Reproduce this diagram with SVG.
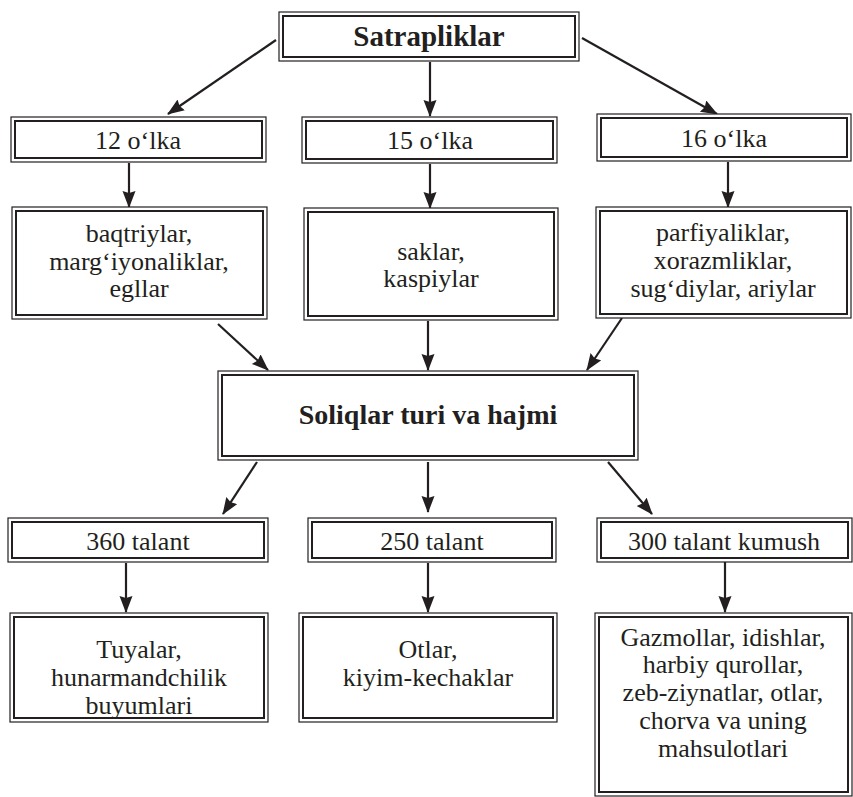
<svg xmlns="http://www.w3.org/2000/svg" width="853" height="797" viewBox="0 0 853 797">
<style>
.o{fill:#fff;stroke:#231f20;stroke-width:1.2}
.i{fill:none;stroke:#231f20;stroke-width:2}
.t{font-family:"Liberation Serif","Times New Roman",serif;font-size:26px;fill:#231f20;text-anchor:middle}
.b{font-weight:bold;font-size:29px}
.c{stroke:#231f20;stroke-width:2.2;fill:none;marker-end:url(#ah)}
</style>
<defs>
<marker id="ah" markerUnits="userSpaceOnUse" markerWidth="18" markerHeight="14" refX="16" refY="6.5" orient="auto">
<path d="M0,0 L17,6.5 L0,13 L2,6.5 z" fill="#231f20"/>
</marker>
</defs>
<rect width="853" height="797" fill="#fff"/>
<g id="connectors">
<line class="c" x1="276" y1="40" x2="168" y2="114"/>
<line class="c" x1="430" y1="62" x2="430" y2="116"/>
<line class="c" x1="582" y1="38" x2="717" y2="114"/>
<line class="c" x1="129" y1="163" x2="129" y2="207"/>
<line class="c" x1="430" y1="164" x2="430" y2="208"/>
<line class="c" x1="728" y1="162" x2="728" y2="207"/>
<line class="c" x1="218" y1="324" x2="268" y2="370"/>
<line class="c" x1="428" y1="321" x2="428" y2="370"/>
<line class="c" x1="622" y1="318" x2="587" y2="370"/>
<line class="c" x1="257" y1="462" x2="223" y2="514"/>
<line class="c" x1="428" y1="462" x2="428" y2="512"/>
<line class="c" x1="608" y1="462" x2="652" y2="514"/>
<line class="c" x1="126" y1="563" x2="126" y2="612"/>
<line class="c" x1="428" y1="563" x2="428" y2="612"/>
<line class="c" x1="725" y1="562" x2="725" y2="612"/>
</g>
<g id="satrapliklar">
<rect class="o" x="279" y="12" width="300" height="49"/>
<rect class="i" x="283" y="16" width="292" height="41"/>
<text class="t b" x="429" y="46">Satrapliklar</text>
</g>
<g id="olka12">
<rect class="o" x="11" y="117" width="255" height="45"/>
<rect class="i" x="15" y="121" width="247" height="37"/>
<text class="t" x="138" y="149">12 o‘lka</text>
</g>
<g id="olka15">
<rect class="o" x="302" y="117" width="255" height="46"/>
<rect class="i" x="306" y="121" width="247" height="38"/>
<text class="t" x="430" y="149">15 o‘lka</text>
</g>
<g id="olka16">
<rect class="o" x="597" y="114" width="254" height="47"/>
<rect class="i" x="601" y="118" width="246" height="39"/>
<text class="t" x="724" y="147">16 o‘lka</text>
</g>
<g id="baqtriylar">
<rect class="o" x="12" y="207" width="255" height="112"/>
<rect class="i" x="16" y="211" width="247" height="104"/>
<text class="t" x="139" y="242">baqtriylar,</text>
<text class="t" x="139" y="270">marg‘iyonaliklar,</text>
<text class="t" x="139" y="297">egllar</text>
</g>
<g id="saklar">
<rect class="o" x="304" y="208" width="254" height="112"/>
<rect class="i" x="308" y="212" width="246" height="104"/>
<text class="t" x="431" y="260">saklar,</text>
<text class="t" x="431" y="287">kaspiylar</text>
</g>
<g id="parfiyaliklar">
<rect class="o" x="596" y="207" width="255" height="111"/>
<rect class="i" x="600" y="211" width="247" height="103"/>
<text class="t" x="723" y="241">parfiyaliklar,</text>
<text class="t" x="723" y="269">xorazmliklar,</text>
<text class="t" x="723" y="297">sug‘diylar, ariylar</text>
</g>
<g id="soliqlar">
<rect class="o" x="218" y="371" width="420" height="89"/>
<rect class="i" x="222" y="375" width="412" height="81"/>
<text class="t b" x="428" y="424" style="font-size:28px">Soliqlar turi va hajmi</text>
</g>
<g id="talant360">
<rect class="o" x="8" y="518" width="260" height="44"/>
<rect class="i" x="12" y="522" width="252" height="36"/>
<text class="t" x="138" y="550">360 talant</text>
</g>
<g id="talant250">
<rect class="o" x="308" y="518" width="248" height="44"/>
<rect class="i" x="312" y="522" width="240" height="36"/>
<text class="t" x="432" y="550">250 talant</text>
</g>
<g id="talant300">
<rect class="o" x="597" y="518" width="255" height="44"/>
<rect class="i" x="601" y="522" width="247" height="36"/>
<text class="t" x="724" y="550">300 talant kumush</text>
</g>
<g id="tuyalar">
<rect class="o" x="10" y="613" width="258" height="109"/>
<rect class="i" x="14" y="617" width="250" height="101"/>
<text class="t" x="139" y="658">Tuyalar,</text>
<text class="t" x="139" y="686">hunarmandchilik</text>
<text class="t" x="139" y="714">buyumlari</text>
</g>
<g id="otlar">
<rect class="o" x="299" y="613" width="258" height="109"/>
<rect class="i" x="303" y="617" width="250" height="101"/>
<text class="t" x="428" y="658">Otlar,</text>
<text class="t" x="428" y="686">kiyim-kechaklar</text>
</g>
<g id="gazmollar">
<rect class="o" x="595" y="613" width="257" height="183"/>
<rect class="i" x="599" y="617" width="249" height="175"/>
<text class="t" x="723" y="646">Gazmollar, idishlar,</text>
<text class="t" x="723" y="673">harbiy qurollar,</text>
<text class="t" x="723" y="701">zeb-ziynatlar, otlar,</text>
<text class="t" x="723" y="729">chorva va uning</text>
<text class="t" x="723" y="757">mahsulotlari</text>
</g>
</svg>
